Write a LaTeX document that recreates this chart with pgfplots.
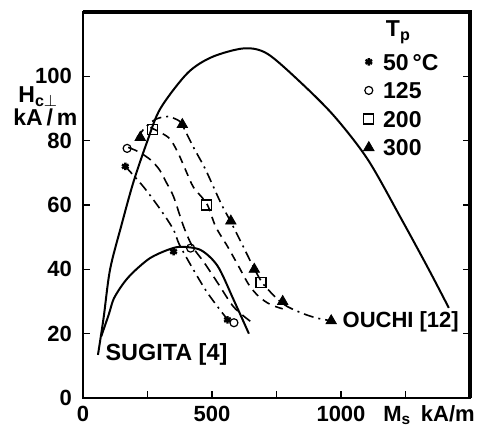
\documentclass[border=0pt]{standalone}
\usepackage{pgfplots}
\usepackage{fontspec}
\pgfplotsset{compat=1.18}
\setmainfont{Liberation Sans}

\begin{document}
\begin{tikzpicture}
\begin{axis}[
  name=ax,
  scale only axis,
  width=193.5pt, height=193pt,
  xmin=0, xmax=1500, ymin=0, ymax=120,
  xtick={0,250,...,1250}, xticklabels={0,,500,,1000,},
  ytick={0,20,...,100},
  xtick pos=bottom,
  tick align=inside,
  major tick length=3.5pt,
  axis line style={line width=1pt, black},
  tick style={line width=0.8pt, black},
  /pgf/number format/assume math mode=true,
  tick label style={font=\bfseries\fontsize{11}{13}\selectfont},
  xticklabel style={yshift=-0.5pt},
  yticklabel style={xshift=-2pt},
  clip=false,
  legend style={draw=none, fill=none, at={(0.722,0.895)}, anchor=north west,
    font=\bfseries\fontsize{11.5}{13}\selectfont,
    nodes={inner sep=0.5pt, text height=8.3pt, text depth=0pt},
    row sep=5pt, inner sep=0pt, outer sep=0pt},
  legend cell align=left,
  legend image code/.code={\draw[#1] plot coordinates {(0pt,0pt)}; \path (-3pt,0pt) (6.5pt,0pt);},
]
% frame (top and right)
\addplot[black, line width=1.8pt, forget plot] coordinates {(0,120) (1500,120) (1500,0)};
% envelope curves (solid)
\addplot[black, line width=1pt, smooth, forget plot] coordinates {
  (58,13.4) (80,25) (105,40) (150,54) (195,67) (250,80) (300,90) (405,101)
  (500,106) (625,108.7) (715,107) (845,98) (975,87.5) (1105,74) (1235,55.5)
  (1340,40) (1418,28)};
\addplot[black, line width=1pt, smooth, forget plot] coordinates {
  (70,19) (100,26) (120,31) (160,36) (200,39.5) (260,43.5) (327,46) (378,47)
  (456,46) (522,41) (584,30.5) (643,20)};
% Tp curves
\addplot[black, line width=0.8pt, smooth, dash pattern=on 5pt off 2.5pt on 1pt off 2.5pt, forget plot] coordinates {
  (164,72) (234,65.7) (300,58.6) (351,52.3) (378,47) (475,33.6) (561,24.3)};
\addplot[black, line width=0.8pt, smooth, dash pattern=on 5pt off 3pt, forget plot] coordinates {
  (175,77.9) (214,76.6) (261,74.1) (296,71) (323,67) (351,62.6) (390,53.3)
  (425,47) (467,42.4) (522,35.8) (584,28.3) (651,23.7)};
\addplot[black, line width=0.8pt, smooth, dash pattern=on 4pt off 3pt, forget plot] coordinates {
  (261,84.1) (331,81) (366,76.6) (397,71) (429,65.4) (480,60.4) (514,53.3)
  (561,47) (600,41.4) (643,35.2) (682,31.5) (728,29) (787,27.4)};
\addplot[black, line width=0.8pt, smooth, dash pattern=on 5pt off 2.5pt on 1pt off 2.5pt, forget plot] coordinates {
  (210,81) (241.5,84.1) (280.5,86.6) (327,87.5) (370,86.3) (385.7,84.7)
  (428.5,77.9) (475,71) (533.7,60.7) (572.6,54.8) (611.6,48.6) (662,40.5)
  (701,35.2) (775,29.3) (845,26.5) (904,24.9) (962,24)};
% measured points
\addplot[only marks, mark=asterisk, mark size=1.9pt, mark options={line width=1.2pt, black}] coordinates {
  (164,72) (351,45.5) (560,24.3)};
\addlegendentry{50\,°C}
\addplot[only marks, mark=o, mark size=2pt, mark options={line width=0.6pt, black, fill=white}] coordinates {
  (171,77.6) (417,46.6) (585,23.4)};
\addlegendentry{125}
\addplot[only marks, mark=square, mark size=2.5pt, mark options={line width=0.6pt, black, fill=white}] coordinates {
  (268,83.5) (478,60) (690,36)};
\addlegendentry{200}
\addplot[only marks, mark=triangle*, mark size=3pt, mark options={black}] coordinates {
  (222,81) (385,85) (573,55) (664,40) (774,30) (962,24)};
\addlegendentry{300}

\node[font=\bfseries\fontsize{11.7}{13}\selectfont, anchor=west, inner sep=0pt] at (axis cs:86,13.4) {SUGITA [4]};
\node[font=\bfseries\fontsize{11}{13}\selectfont, anchor=west, inner sep=0pt] at (axis cs:1005,23.7) {OUCHI [12]};
\node[font=\bfseries\fontsize{11.5}{13}\selectfont] at (rel axis cs:0.815,0.948) {T\textsubscript{p}};
\node[font=\bfseries\fontsize{11.5}{13}\selectfont, anchor=west, inner sep=0pt] at ([xshift=-32.5pt]rel axis cs:0,0.78) {H\textsubscript{c$\perp$}};
\node[font=\bfseries\fontsize{11.5}{13}\selectfont, anchor=west, inner sep=0pt] at ([xshift=-35pt]rel axis cs:0,0.726) {kA\,/\,m};
\node[font=\bfseries\fontsize{11}{13}\selectfont, anchor=west, inner sep=0pt] at ([yshift=-8.5pt]rel axis cs:0.775,0) {M\textsubscript{s}\, kA/m};
\end{axis}
\pgfresetboundingbox
\useasboundingbox ([xshift=-41.5pt,yshift=-14.5pt]ax.south west) rectangle ([xshift=6.5pt,yshift=6pt]ax.north east);
\end{tikzpicture}
\end{document}
